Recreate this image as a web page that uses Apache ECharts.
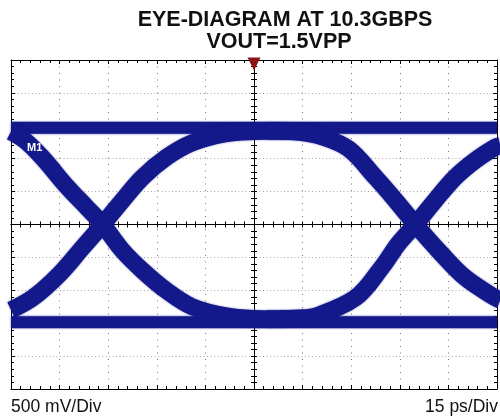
<!DOCTYPE html>
<html>
<head>
<meta charset="utf-8">
<script src="https://cdn.jsdelivr.net/npm/echarts@6/dist/echarts.min.js"></script>
<style>
  html, body { margin: 0; padding: 0; background: #fff; }
  #chart { width: 500px; height: 419px; }
</style>
</head>
<body>
<div id="chart"></div>
<script>
// time in ps relative to screen centre, voltage in mV (15 ps/div, 500 mV/div)
const highLevel = [[-75, 1470], [75, 1470]]
const lowLevel = [[-75, -1485], [75, -1485]]
const fallLeft = [[-75, 1410], [-70.5, 1270], [-65.2, 1010], [-57.8, 580], [-51.6, 259], [-46.7, 0], [-40.6, -396], [-34.4, -701], [-27.0, -1006], [-19.1, -1250], [-8.6, -1390], [0, -1428], [10, -1435]]
const riseLeft = [[-75, -1300], [-68.2, -1112], [-59.9, -747], [-52.9, -350], [-46.7, 0], [-40.6, 366], [-34.4, 716], [-27.0, 1021], [-19.1, 1240], [-8.6, 1380], [0, 1412], [10, 1420]]
const fallRight = [[4, 1420], [14, 1400], [20.9, 1335], [29.2, 1150], [37.5, 716], [43.7, 366], [49.8, 0], [57.8, -442], [65.2, -808], [74.4, -1112], [76, -1150]]
const riseRight = [[4, -1435], [14, -1420], [19.1, -1390], [31.4, -1112], [39.4, -655], [44.6, -290], [49.8, 0], [55.9, 366], [62.1, 716], [68.3, 975], [74.4, 1173], [76, 1200]]
const triggerAt = [0, 2500]

const blue = '#13198a'
const chart = echarts.init(document.getElementById('chart'))

function xAx(position, onZero, inside, split) {
  return {
    type: 'value', min: -75, max: 75, interval: 15, position,
    axisLine: { show: true, onZero, onZeroAxisIndex: onZero ? 0 : undefined, lineStyle: { color: '#000', width: 1 } },
    axisTick: { show: true, inside, length: onZero ? 3 : 4, lineStyle: { color: '#000' } },
    minorTick: { show: true, splitNumber: 5, length: 3, lineStyle: { color: '#000' } },
    axisLabel: { show: false },
    splitLine: { show: split, lineStyle: { color: '#777', type: [1, 5.5], width: 1 } }
  }
}
function yAx(position, onZero, inside, split) {
  return {
    type: 'value', min: -2500, max: 2500, interval: 500, position,
    axisLine: { show: true, onZero, onZeroAxisIndex: onZero ? 0 : undefined, lineStyle: { color: '#000', width: 1 } },
    axisTick: { show: true, inside, length: onZero ? 3 : 4, lineStyle: { color: '#000' } },
    minorTick: { show: true, splitNumber: 5, length: 3, lineStyle: { color: '#000' } },
    axisLabel: { show: false },
    splitLine: { show: split, lineStyle: { color: '#aaa', type: [1, 2.5], width: 1 } }
  }
}
function trace(data, width) {
  return {
    type: 'line', data, smooth: 0.35, showSymbol: false, silent: true,
    lineStyle: { color: blue, width, shadowBlur: 2, shadowColor: 'rgba(19,25,138,.6)' }
  }
}

chart.setOption({
  animation: false,
  title: [
    { text: 'EYE-DIAGRAM AT 10.3GBPS', left: 285, top: 9, textAlign: 'center', padding: 0,
      textStyle: { fontFamily: 'Liberation Sans', fontSize: 21.5, fontWeight: 'bold', color: '#111', lineHeight: 22 } },
    { text: 'VOUT=1.5VPP', left: 279, top: 31.5, textAlign: 'center', padding: 0,
      textStyle: { fontFamily: 'Liberation Sans', fontSize: 21.5, fontWeight: 'bold', color: '#111', lineHeight: 22 } },
    { text: '500 mV/Div', left: 11, top: 398, padding: 0,
      textStyle: { fontFamily: 'Liberation Sans', fontSize: 17.5, fontWeight: 'normal', color: '#111', lineHeight: 18 } },
    { text: '15 ps/Div', right: 2, top: 398, padding: 0,
      textStyle: { fontFamily: 'Liberation Sans', fontSize: 17.5, fontWeight: 'normal', color: '#111', lineHeight: 18 } }
  ],
  grid: { left: 11, right: 3, top: 60, bottom: 30, containLabel: false, outerBoundsMode: 'none' },
  xAxis: [xAx('bottom', false, true, true), xAx('top', false, true, false), xAx('bottom', true, false, false), xAx('bottom', true, true, false)],
  yAxis: [yAx('left', false, true, true), yAx('right', false, true, false), yAx('left', true, false, false), yAx('left', true, true, false)],
  graphic: [
    { type: 'text', left: 27, top: 142, z: 10, style: { text: 'M1', fill: '#fff', font: 'bold 11px "Liberation Sans"' } }
  ],
  series: [
    Object.assign(trace(highLevel, 12), {
      markPoint: {
        symbol: 'triangle', symbolRotate: 180, symbolSize: [13, 13], symbolOffset: [0, 4],
        itemStyle: { color: '#8c1414' }, label: { show: false },
        data: [{ coord: triggerAt }]
      }
    }),
    trace(lowLevel, 12),
    trace(fallLeft, 17),
    trace(riseLeft, 17),
    trace(fallRight, 17),
    trace(riseRight, 17)
  ]
})
</script>
</body>
</html>
